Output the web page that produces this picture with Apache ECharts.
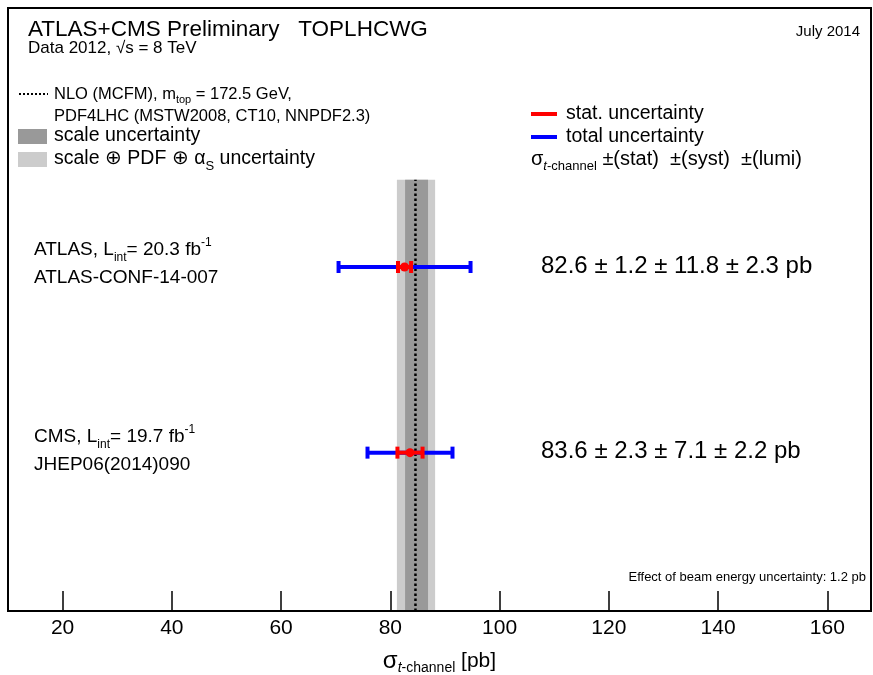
<!DOCTYPE html>
<html>
<head>
<meta charset="utf-8">
<script src="https://cdn.jsdelivr.net/npm/echarts@6/dist/echarts.min.js"></script>
<style>
html,body{margin:0;padding:0;background:#fff;}
#main{width:873px;height:675px;}
</style>
</head>
<body>
<div id="main"></div>
<script>
// measurements, t-channel cross section [pb]
var expNames = ['ATLAS', 'CMS'];
var expRows = [2, 1];
var expValue = [82.6, 83.6];
var expStat = [1.2, 2.3];
var expSyst = [11.8, 7.1];
var expLumi = [2.3, 2.2];
var expLint = ['20.3', '19.7'];
var expRef = ['ATLAS-CONF-14-007', 'JHEP06(2014)090'];

// NLO (MCFM) prediction
var theoryCentral = 84.6;
var theoryScale = [82.7, 86.9];
var theoryTotal = [81.2, 88.2];

// x axis
var xMin = 10;
var xMax = 168;
var xTicks = [20, 40, 60, 80, 100, 120, 140, 160];

var FONT = 'Liberation Sans, Arial, Helvetica, sans-serif';
var yMin = 0.147, yMax = 3.395, bandTop = 2.47;

// 误差棒数据
var barData = [];
for (var i = 0; i < expNames.length; i++) {
    var tot = Math.sqrt(expStat[i] * expStat[i] + expSyst[i] * expSyst[i] + expLumi[i] * expLumi[i]);
    barData.push([expValue[i], expRows[i], expValue[i] - expStat[i], expValue[i] + expStat[i], expValue[i] - tot, expValue[i] + tot]);
}

function fmt(v) {
    return v.toFixed(1);
}

function rich(size) {
    var small = Math.round(size * 0.65);
    return {
        n: {fontSize: size, fontFamily: FONT, lineHeight: Math.round(size * 1.4), fill: '#000'},
        sub: {fontSize: small, fontFamily: FONT, verticalAlign: 'bottom', lineHeight: small, fill: '#000'},
        subi: {fontSize: small, fontFamily: FONT, fontStyle: 'italic', verticalAlign: 'bottom', lineHeight: small, fill: '#000'},
        sup: {fontSize: small, fontFamily: FONT, verticalAlign: 'top', lineHeight: Math.round(size * 1.14), fill: '#000'}
    };
}

function label(x, y, text, size, align) {
    return {
        type: 'text',
        x: x,
        y: y,
        z: 100,
        style: {
            text: text,
            rich: rich(size),
            fontSize: size,
            fontFamily: FONT,
            fill: '#000',
            align: align || 'left',
            textAlign: align || 'left',
            verticalAlign: 'middle',
            textVerticalAlign: 'middle'
        }
    };
}

function box(x, y, w, h, color) {
    return {type: 'rect', z: 100, shape: {x: x, y: y, width: w, height: h}, style: {fill: color}};
}

function hline(x1, x2, y, color, width, dash) {
    return {type: 'line', z: 100, shape: {x1: x1, y1: y, x2: x2, y2: y},
        style: {stroke: color, lineWidth: width, lineDash: dash || null}};
}

//画带
function renderBand(params, api) {
    var p1 = api.coord([api.value(0), bandTop]);
    var p2 = api.coord([api.value(1), yMin]);
    return {
        type: 'rect',
        shape: {x: p1[0], y: p1[1], width: p2[0] - p1[0], height: p2[1] - p1[1]},
        style: {fill: api.value(2) === 0 ? '#cccccc' : '#999999'}
    };
}

//画误差棒
function renderBar(params, api) {
    var y = api.value(1);
    var c = api.coord([api.value(0), y]);
    var sLo = api.coord([api.value(2), y])[0];
    var sHi = api.coord([api.value(3), y])[0];
    var tLo = api.coord([api.value(4), y])[0];
    var tHi = api.coord([api.value(5), y])[0];
    var cap = 6;
    var blue = {stroke: '#0000ff', lineWidth: 4};
    var red = {stroke: '#ff0000', lineWidth: 4};
    return {
        type: 'group',
        children: [
            {type: 'line', shape: {x1: tLo, y1: c[1], x2: tHi, y2: c[1]}, style: blue},
            {type: 'line', shape: {x1: tLo, y1: c[1] - cap, x2: tLo, y2: c[1] + cap}, style: blue},
            {type: 'line', shape: {x1: tHi, y1: c[1] - cap, x2: tHi, y2: c[1] + cap}, style: blue},
            {type: 'line', shape: {x1: sLo, y1: c[1], x2: sHi, y2: c[1]}, style: red},
            {type: 'line', shape: {x1: sLo, y1: c[1] - cap, x2: sLo, y2: c[1] + cap}, style: red},
            {type: 'line', shape: {x1: sHi, y1: c[1] - cap, x2: sHi, y2: c[1] + cap}, style: red},
            {type: 'circle', shape: {cx: c[0], cy: c[1], r: 4.5}, style: {fill: '#ff0000'}}
        ]
    };
}

var graphics = [
    label(28, 30, 'ATLAS+CMS Preliminary   TOPLHCWG', 22.5),
    label(28, 48, 'Data 2012, √s = 8 TeV', 17),
    label(860, 32, 'July 2014', 15, 'right'),
    hline(19, 48, 94, '#000', 2, [2, 2]),
    label(54, 94, '{n|NLO (MCFM), m}{sub|top}{n| = 172.5 GeV,}', 16.5),
    label(54, 116, 'PDF4LHC (MSTW2008, CT10, NNPDF2.3)', 16.5),
    box(18, 129, 29, 15, '#999999'),
    label(54, 136, 'scale uncertainty', 19.5),
    box(18, 152, 29, 15, '#cccccc'),
    label(54, 159, '{n|scale ⊕ PDF ⊕ α}{sub|S}{n| uncertainty}', 19.5),
    hline(531, 557, 114, '#ff0000', 4),
    label(566, 114, 'stat. uncertainty', 19.5),
    hline(531, 557, 137, '#0000ff', 4),
    label(566, 137, 'total uncertainty', 19.5),
    label(531, 159, '{n|σ}{subi|t}{sub|-channel}{n| ±(stat)  ±(syst)  ±(lumi)}', 20),
    label(866, 577, 'Effect of beam energy uncertainty: 1.2 pb', 13, 'right')
];

var labelY = [[250, 278, 266], [437, 465, 451]];
for (var j = 0; j < expNames.length; j++) {
    graphics.push(label(34, labelY[j][0], '{n|' + expNames[j] + ', L}{sub|int}{n|= ' + expLint[j] + ' fb}{sup|-1}', 19));
    graphics.push(label(34, labelY[j][1], expRef[j], 19));
    graphics.push(label(541, labelY[j][2], fmt(expValue[j]) + ' ± ' + fmt(expStat[j]) + ' ± ' + fmt(expSyst[j]) + ' ± ' + fmt(expLumi[j]) + ' pb', 24));
}

var myChart = echarts.init(document.getElementById('main'));
var option = {
    backgroundColor: '#fff',
    animation: false,
    grid: {
        left: 8, right: 2, top: 8, bottom: 64,
        outerBoundsMode: 'none',
        containLabel: false,
        show: true,
        borderColor: '#000',
        borderWidth: 2,
        z: 10
    },
    xAxis: {
        type: 'value',
        min: xMin,
        max: xMax,
        axisLine: {show: false},
        splitLine: {show: false},
        axisTick: {show: true, inside: true, length: 20, customValues: xTicks, lineStyle: {color: '#000', width: 1.5}},
        axisLabel: {customValues: xTicks, fontSize: 21, fontFamily: FONT, color: '#000', margin: 7},
        name: '{s|σ}{subi|t}{sub|-channel}{n| [pb]}',
        nameLocation: 'middle',
        nameGap: 36,
        nameTextStyle: {
            color: '#000',
            rich: {
                s: {fontSize: 24, fontFamily: FONT, lineHeight: 28, color: '#000'},
                n: {fontSize: 21, fontFamily: FONT, lineHeight: 28, color: '#000'},
                subi: {fontSize: 14, fontFamily: FONT, fontStyle: 'italic', verticalAlign: 'bottom', lineHeight: 14, color: '#000'},
                sub: {fontSize: 14, fontFamily: FONT, verticalAlign: 'bottom', lineHeight: 14, color: '#000'}
            }
        }
    },
    yAxis: {
        type: 'value',
        min: yMin,
        max: yMax,
        show: false
    },
    series: [
        {
            type: 'custom',
            renderItem: renderBand,
            data: [[theoryTotal[0], theoryTotal[1], 0], [theoryScale[0], theoryScale[1], 1]],
            z: 1,
            silent: true
        },
        {
            type: 'line',
            data: [[theoryCentral, yMin], [theoryCentral, bandTop]],
            symbol: 'none',
            lineStyle: {color: '#000', width: 2.5, type: [2.5, 2.5], cap: 'butt'},
            z: 2,
            silent: true
        },
        {
            type: 'custom',
            renderItem: renderBar,
            data: barData,
            z: 3,
            silent: true
        }
    ],
    graphic: graphics
};
myChart.setOption(option);
</script>
</body>
</html>
